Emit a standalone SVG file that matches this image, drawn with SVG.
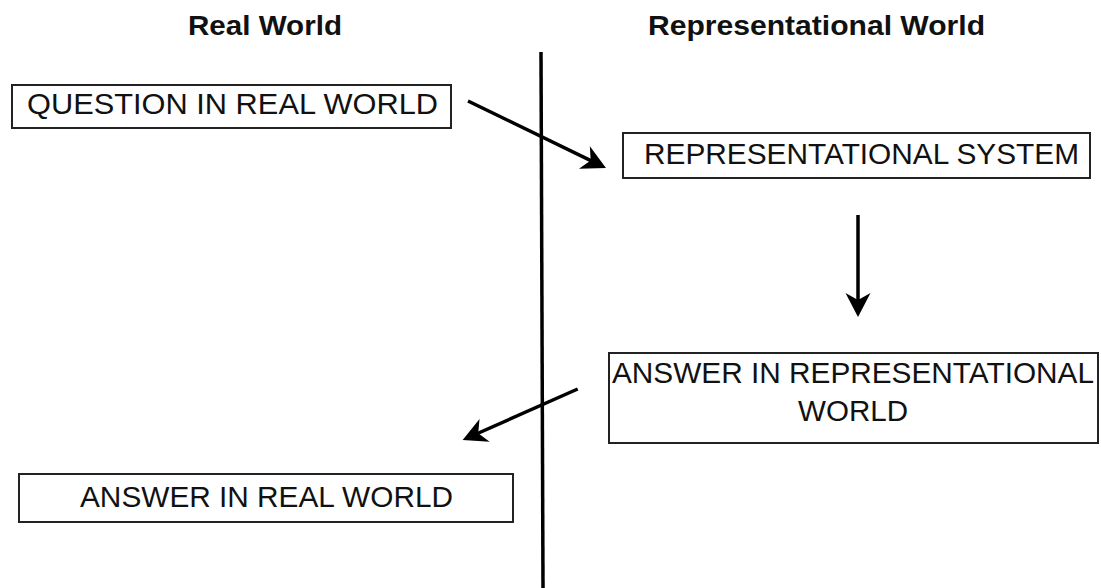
<svg xmlns="http://www.w3.org/2000/svg" width="1101" height="588" viewBox="0 0 1101 588">
<style>
  .box { fill: #ffffff; stroke: #222222; stroke-width: 2; }
  .lbl { font-family: "Liberation Sans", Arial, Helvetica, sans-serif; font-size: 29.5px; fill: #111111; }
  .title { font-family: "Liberation Sans", Arial, Helvetica, sans-serif; font-size: 28.5px; font-weight: bold; fill: #111111; }
  .conn { stroke: #000000; stroke-width: 3.5; fill: none; stroke-linecap: butt; }
  .divider { stroke: #000000; stroke-width: 3.5; }
</style>
<defs>
  <marker id="arrow" markerUnits="userSpaceOnUse" markerWidth="30" markerHeight="30" refX="0" refY="0" orient="auto" overflow="visible">
    <path d="M10,0 L-14,-12.5 L-7,0 L-14,12.5 Z" fill="#000000"/>
  </marker>
</defs>
<rect width="1101" height="588" fill="#ffffff"/>
<g id="titles">
  <text class="title" x="188" y="35" textLength="154" lengthAdjust="spacingAndGlyphs">Real World</text>
  <text class="title" x="648" y="35" textLength="337" lengthAdjust="spacingAndGlyphs">Representational  World</text>
</g>
<g id="divider">
  <line class="divider" x1="541" y1="52" x2="543" y2="588"/>
</g>
<g id="node-question">
  <rect class="box" x="12" y="85" width="439" height="43"/>
  <text class="lbl" x="27" y="114" textLength="411" lengthAdjust="spacingAndGlyphs">QUESTION IN REAL WORLD</text>
</g>
<g id="node-system">
  <rect class="box" x="623" y="133" width="467" height="45"/>
  <text class="lbl" x="644" y="164" textLength="435" lengthAdjust="spacingAndGlyphs">REPRESENTATIONAL SYSTEM</text>
</g>
<g id="node-answer-rep">
  <rect class="box" x="609" y="353" width="489" height="90"/>
  <text class="lbl" x="612" y="383" textLength="482" lengthAdjust="spacingAndGlyphs">ANSWER IN REPRESENTATIONAL</text>
  <text class="lbl" x="853" y="421" text-anchor="middle" textLength="110" lengthAdjust="spacingAndGlyphs">WORLD</text>
</g>
<g id="node-answer-real">
  <rect class="box" x="19" y="474" width="494" height="48"/>
  <text class="lbl" x="80" y="507" textLength="373" lengthAdjust="spacingAndGlyphs">ANSWER IN REAL WORLD</text>
</g>
<g id="connectors">
  <line class="conn" x1="468" y1="101" x2="597" y2="163.6" marker-end="url(#arrow)"/>
  <line class="conn" x1="858" y1="215" x2="858" y2="307" marker-end="url(#arrow)"/>
  <line class="conn" x1="577.7" y1="389" x2="471.8" y2="436" marker-end="url(#arrow)"/>
</g>
</svg>
